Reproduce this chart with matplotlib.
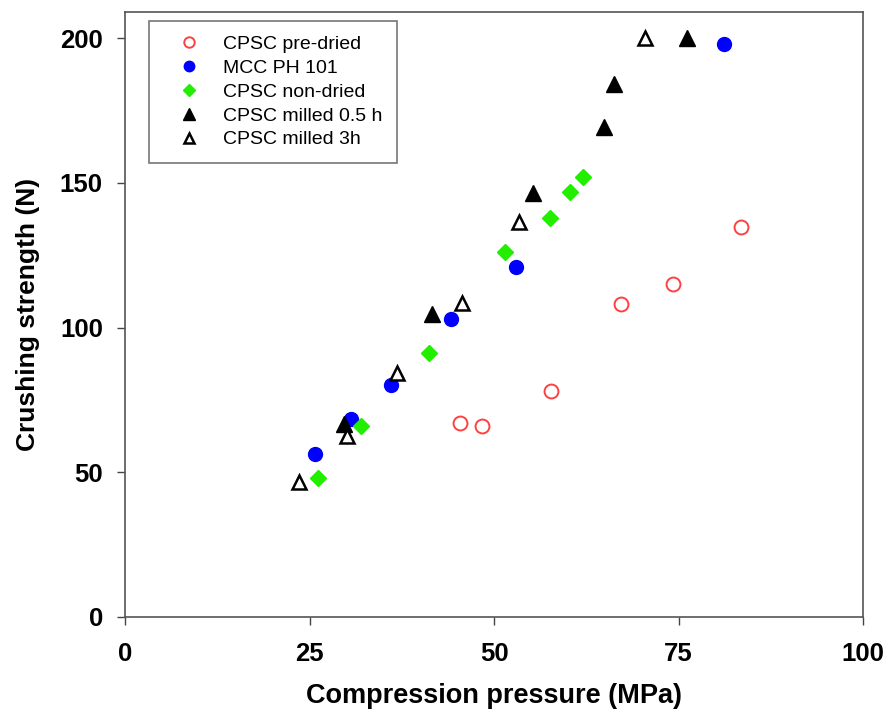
import matplotlib
matplotlib.use("Agg")
import matplotlib.pyplot as plt

plt.rcParams['font.family'] = ['Liberation Sans', 'DejaVu Sans']

# CPSC pre-dried
pre_x = [45.4, 48.3, 57.7, 67.2, 74.3, 83.4]
pre_y = [66.9, 66.1, 78.1, 108.1, 115.0, 134.8]
# MCC PH 101
mcc_x = [25.7, 30.6, 36.0, 44.2, 53.0, 81.1]
mcc_y = [56.3, 68.3, 80.0, 102.9, 120.9, 197.8]
# CPSC non-dried
non_x = [26.2, 32.0, 41.2, 51.5, 57.6, 60.3, 62.1]
non_y = [48.0, 66.1, 91.1, 126.0, 137.8, 146.8, 151.9]
# CPSC milled 0.5 h
m05_x = [29.6, 41.6, 55.3, 64.9, 66.2, 76.1]
m05_y = [66.6, 104.6, 146.4, 169.3, 184.0, 200.1]
# CPSC milled 3h
m3_x = [23.6, 30.1, 36.9, 45.7, 53.4, 70.4]
m3_y = [46.6, 62.5, 84.4, 108.4, 136.4, 200.1]

fig = plt.figure(figsize=(8.87, 7.10), dpi=100)
ax = fig.add_axes([0.141, 0.131, 0.832, 0.852])

ax.plot(pre_x, pre_y, 'o', ms=10, mfc='white', mec='#ff4040', mew=1.4, ls='none',
        label='CPSC pre-dried')
ax.plot(mcc_x, mcc_y, 'o', ms=10, mfc='#0000ff', mec='#0000ff', ls='none',
        label='MCC PH 101')
ax.plot(non_x, non_y, 'D', ms=8.5, mfc='#22ee00', mec='#22ee00', ls='none',
        label='CPSC non-dried')
ax.plot(m05_x, m05_y, '^', ms=11, mfc='black', mec='black', ls='none',
        label='CPSC milled 0.5 h')
ax.plot(m3_x, m3_y, '^', ms=10, mfc='white', mec='black', mew=1.8, ls='none',
        label='CPSC milled 3h')

ax.set_xlim(0, 100)
ax.set_ylim(0, 209)
ax.set_xticks([0, 25, 50, 75, 100])
ax.set_yticks([0, 50, 100, 150, 200])
ax.tick_params(direction='out', length=6, width=1, labelsize=18.5, color='#444444')
ax.tick_params(axis='y', pad=10)
ax.tick_params(axis='x', pad=12)
for lab in ax.get_xticklabels() + ax.get_yticklabels():
    lab.set_fontweight('bold')

for s in ax.spines.values():
    s.set_color('#555555')
    s.set_linewidth(1.2)

ax.set_xlabel('Compression pressure (MPa)', fontsize=19.5, fontweight='bold', labelpad=12)
ax.set_ylabel('Crushing strength (N)', fontsize=19, fontweight='bold', labelpad=14)

leg = ax.legend(loc='upper left', bbox_to_anchor=(0.0325, 0.985), fontsize=14,
                frameon=True, fancybox=False, edgecolor='#555555',
                handletextpad=0.46, labelspacing=0.32, borderpad=0.74,
                handlelength=2.6, borderaxespad=0, markerscale=0.75)
leg.get_frame().set_linewidth(1.2)

fig.savefig('out.png', dpi=100)
